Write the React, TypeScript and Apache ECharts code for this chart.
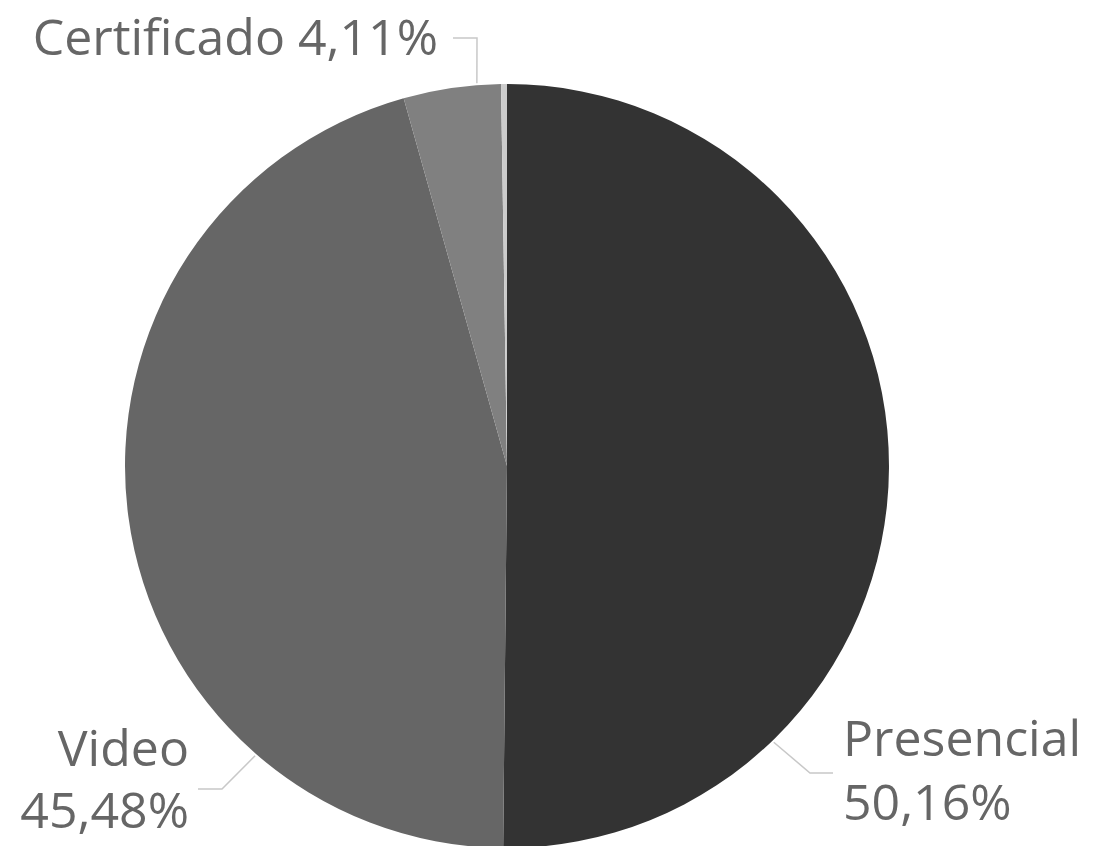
import React, { useEffect, useRef } from "react";
import * as echarts from "echarts";

const categories = ["Presencial", "Video", "Certificado", "Otro"];
const values = [50.16, 45.48, 4.11, 0.25];
const colors = ["#333333", "#666666", "#808080", "#cccccc"];
const showLabel = [true, true, true, false];

const CX = 507;
const CY = 466;
const R = 382;

// leader-line start angle (deg, clockwise from top), elbow, end, and text anchor
const labelGeom: Record<number, any> = {
  0: { a: 136, elbow: [810, 773], end: [833, 773], tx: 843, ty: 705, lh: 64, align: "left", va: "top" },
  1: { a: 221, elbow: [222, 789], end: [198, 789], tx: 189, ty: 716, lh: 62, align: "right", va: "top" },
  2: { a: 355.5, elbow: [477, 38], end: [453, 38], tx: 438, ty: 36, lh: 60, align: "right", va: "middle" },
};

const fmt = (v: number) => v.toFixed(2).replace(".", ",") + "%";

export default function App() {
  const ref = useRef<HTMLDivElement>(null);
  useEffect(() => {
    if (!ref.current) return;
    const chart = echarts.init(ref.current, null, { renderer: "svg" });
    chart.setOption({
      animation: false,
      backgroundColor: "#ffffff",
      series: [
        {
          type: "pie",
          center: [CX, CY],
          radius: [0, R],
          startAngle: 90,
          clockwise: true,
          avoidLabelOverlap: false,
          itemStyle: { borderWidth: 0 },
          label: {
            show: true,
            color: "#666666",
            fontFamily: "Open Sans",
            fontSize: 50,
          },
          labelLine: {
            show: true,
            lineStyle: { color: "#c8c8c8", width: 1.5 },
          },
          labelLayout: (p: any) => {
            const g = labelGeom[p.dataIndex];
            if (!g) return {};
            const rad = (g.a * Math.PI) / 180;
            const sx = CX + (R + 2) * Math.sin(rad);
            const sy = CY - (R + 2) * Math.cos(rad);
            return {
              x: g.tx,
              y: g.ty,
              align: g.align,
              verticalAlign: g.va,
              labelLinePoints: [[sx, sy], g.elbow, g.end],
            };
          },
          data: categories.map((c, i) => ({
            name: c,
            value: values[i],
            itemStyle: { color: colors[i] },
            label: {
              show: showLabel[i],
              lineHeight: labelGeom[i] ? labelGeom[i].lh : 60,
              formatter:
                i === 2 ? `${c} ${fmt(values[i])}` : `${c}\n${fmt(values[i])}`,
            },
            labelLine: { show: showLabel[i] },
          })),
        },
      ],
    });
    return () => chart.dispose();
  }, []);
  return (
    <div
      ref={ref}
      style={{ position: "absolute", left: 0, top: 0, width: 1109, height: 846 }}
    />
  );
}
